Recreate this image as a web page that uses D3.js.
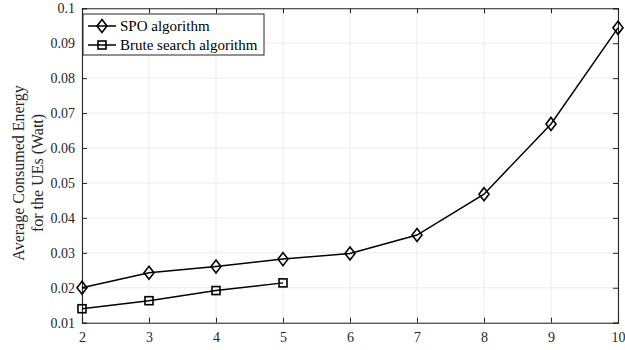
<!DOCTYPE html>
<html><head><meta charset="utf-8">
<script src="https://cdn.jsdelivr.net/npm/d3@7"></script>
<style>body{margin:0;background:#fff}svg{display:block}</style>
</head><body><svg id="c" width="625" height="350"></svg>
<script>
const xValues = [2,3,4,5,6,7,8,9,10];
const spoValues = [0.0200,0.0243,0.0261,0.0282,0.0298,0.0351,0.0468,0.0669,0.0944];
const bruteX = [2,3,4,5];
const bruteValues = [0.0140,0.0163,0.0192,0.0214];
const xTicks = [2,3,4,5,6,7,8,9,10];
const yTicks = [0.01,0.02,0.03,0.04,0.05,0.06,0.07,0.08,0.09,0.1];
const seriesNames = ["SPO algorithm","Brute search algorithm"];
const yLabelLines = ["Average Consumed Energy","for the UEs (Watt)"];

const FONT = "Liberation Serif, Times New Roman, Times, serif";
const svg = d3.select("#c");
const L=82,R=618,T=8.3,B=322.7;
const x=d3.scaleLinear().domain([2,10]).range([L,R]);
const y=d3.scaleLinear().domain([0.01,0.1]).range([B,T]);
const ax="#262626";
// grid
const g=svg.append("g");
g.selectAll(".gx").data(xTicks).join("line").attr("x1",d=>x(d)).attr("x2",d=>x(d)).attr("y1",T).attr("y2",B).attr("stroke","#ebebeb").attr("stroke-width",1);
g.selectAll(".gy").data(yTicks).join("line").attr("y1",d=>y(d)).attr("y2",d=>y(d)).attr("x1",L).attr("x2",R).attr("stroke","#ebebeb").attr("stroke-width",1);
// axes
const fmt=d=>d3.format("~g")(d);
const xb=svg.append("g").attr("transform",`translate(0,${B})`).call(d3.axisBottom(x).tickValues(xTicks).tickSize(-5).tickPadding(9).tickFormat(d3.format("d")));
const xt=svg.append("g").attr("transform",`translate(0,${T})`).call(d3.axisTop(x).tickValues(xTicks).tickSize(-5).tickFormat(""));
const yl=svg.append("g").attr("transform",`translate(${L},0)`).call(d3.axisLeft(y).tickValues(yTicks).tickSize(-5).tickPadding(7).tickFormat(fmt));
const yr=svg.append("g").attr("transform",`translate(${R},0)`).call(d3.axisRight(y).tickValues(yTicks).tickSize(-5).tickFormat(""));
[xb,xt,yl,yr].forEach(a=>{a.attr("font-family",FONT).attr("font-size",14);a.selectAll("path").attr("stroke",ax).attr("stroke-width",1.1);a.selectAll("line").attr("stroke",ax);a.selectAll("text").attr("fill",ax);});
// y label
const lab=svg.append("text").attr("transform","translate(24,173) rotate(-90)").attr("text-anchor","middle").attr("font-size",16).attr("font-family",FONT).attr("fill",ax);
lab.selectAll("tspan").data(yLabelLines).join("tspan").attr("x",0).attr("dy",(d,i)=>i?19:0).text(d=>d);
// lines
const line=d3.line().x(d=>x(d[0])).y(d=>y(d[1]));
const spo=xValues.map((v,i)=>[v,spoValues[i]]);
const bru=bruteX.map((v,i)=>[v,bruteValues[i]]);
svg.append("path").datum(spo).attr("d",line).attr("fill","none").attr("stroke","#000").attr("stroke-width",1.5);
svg.append("path").datum(bru).attr("d",line).attr("fill","none").attr("stroke","#000").attr("stroke-width",1.5);
const dia=(s,cx,cy)=>s.append("path").attr("d",`M${cx},${cy-6.5}L${cx+5},${cy}L${cx},${cy+6.5}L${cx-5},${cy}Z`).attr("fill","none").attr("stroke","#000").attr("stroke-width",1.6);
const sq=(s,cx,cy)=>s.append("rect").attr("x",cx-4).attr("y",cy-4).attr("width",8).attr("height",8).attr("fill","none").attr("stroke","#000").attr("stroke-width",1.6);
spo.forEach(d=>dia(svg,x(d[0]),y(d[1])));
bru.forEach(d=>sq(svg,x(d[0]),y(d[1])));
// legend
const lg=svg.append("g");
lg.append("rect").attr("x",83).attr("y",14).attr("width",181).attr("height",41).attr("fill","#fff").attr("stroke","#262626").attr("stroke-width",1);
[0,1].forEach(i=>{
  const cy=26+i*19;
  lg.append("line").attr("x1",88).attr("x2",116).attr("y1",cy).attr("y2",cy).attr("stroke","#000").attr("stroke-width",1.5);
  if(i===0) dia(lg,102,cy); else sq(lg,102,cy);
  lg.append("text").attr("x",120).attr("y",cy+5).attr("font-size",15).attr("font-family",FONT).attr("fill","#000").text(seriesNames[i]);
});
</script></body></html>
